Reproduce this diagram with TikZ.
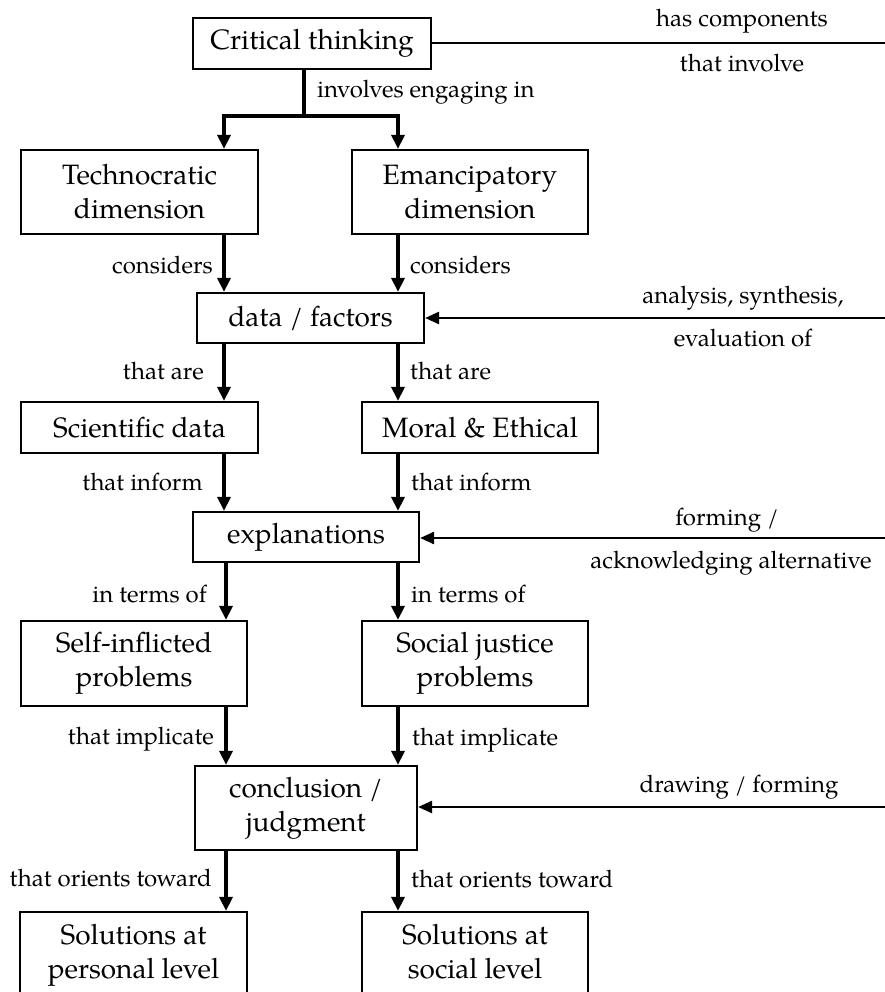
\documentclass[tikz,border=0pt]{standalone}
\usepackage{fontspec}
\setmainfont{TeX Gyre Pagella}
\usetikzlibrary{arrows.meta}
\begin{document}
\begin{tikzpicture}[x=1pt,y=-1pt,
  box/.style={draw, line width=2.2pt, align=center, inner sep=0pt,
    font=\fontsize{28}{34}\selectfont},
  lab/.style={inner sep=0pt, font=\fontsize{24}{28}\selectfont},
  conn/.style={line width=3.1pt},
  arr/.style={line width=3.1pt, -{Triangle[length=14pt,width=13pt]}},
  hline/.style={line width=2.6pt},
  harr/.style={line width=2.6pt, -{Triangle[length=14pt,width=12pt]}}]
\useasboundingbox (0,0) rectangle (885,992);
\clip (0,0) rectangle (885,992);

% columns
\coordinate (cL) at (224,0);
\coordinate (cL2) at (226,0);
\coordinate (cR) at (398,0);
\coordinate (jn) at (304,116);

% boxes
\node[box, minimum width=238pt, minimum height=51pt] (ct) at (312,43.5) {Critical thinking};
\node[box, minimum width=237pt, minimum height=84pt] (tech) at (139.5,192) {Technocratic\\dimension};
\node[box, minimum width=236pt, minimum height=84pt] (eman) at (470,192) {Emancipatory\\dimension};
\node[box, minimum width=227pt, minimum height=50pt] (data) at (310.5,318) {data / factors};
\node[box, minimum width=237pt, minimum height=51pt] (sci) at (139.5,427.5) {Scientific data};
\node[box, minimum width=236pt, minimum height=51pt] (moral) at (480,427.5) {Moral \& Ethical};
\node[box, minimum width=226pt, minimum height=50pt] (expl) at (306,537) {explanations};
\node[box, minimum width=226pt, minimum height=85pt] (self) at (134,663.5) {Self-inflicted\\problems};
\node[box, minimum width=226pt, minimum height=85pt] (social) at (475,663.5) {Social justice\\problems};
\node[box, minimum width=222pt, minimum height=84pt] (concl) at (306,808) {conclusion /\\judgment};
\node[box, minimum width=227pt, minimum height=86pt] (solp) at (133.5,955) {Solutions at\\personal level};
\node[box, minimum width=226pt, minimum height=86pt] (sols) at (475,955) {Solutions at\\social level\vphantom{p}};

% top fork
\draw[conn] (ct.south -| jn) -- (jn);
\draw[arr] (jn) -| (tech.north -| cL);
\draw[arr] (jn) -| (eman.north -| cR);
\node[lab, anchor=base west] (l0) at (317,98) {involves engaging in};

% vertical arrows
\draw[arr] (tech.south -| cL) -- (data.north -| cL);
\draw[arr] (eman.south -| cR) -- (data.north -| cR);
\draw[arr] (data.south -| cL) -- (sci.north -| cL);
\draw[arr] (data.south -| cR) -- (moral.north -| cR);
\draw[arr] (sci.south -| cL) -- (expl.north -| cL);
\draw[arr] (moral.south -| cR) -- (expl.north -| cR);
\draw[arr] (expl.south -| cL2) -- (self.north -| cL2);
\draw[arr] (expl.south -| cR) -- (social.north -| cR);
\draw[arr] (self.south -| cL2) -- (concl.north -| cL2);
\draw[arr] (social.south -| cR) -- (concl.north -| cR);
\draw[arr] (concl.south -| cL2) -- (solp.north -| cL2);
\draw[arr] (concl.south -| cR) -- (sols.north -| cR);

% left labels
\node[lab, anchor=base east] (a1) at (213,273) {considers};
\node[lab, anchor=base east] (a2) at (204,379) {that are};
\node[lab, anchor=base east] (a3) at (203,490) {that inform};
\node[lab, anchor=base east] (a4) at (207,602) {in terms of};
\node[lab, anchor=base east] (a5) at (214,744) {that implicate};
\node[lab, anchor=base east] (a6) at (212,886) {that orients toward};
% right labels
\node[lab, anchor=base west] (b1) at (410,273) {considers};
\node[lab, anchor=base west] (b2) at (410,379) {that are};
\node[lab, anchor=base west] (b3) at (411,490) {that inform};
\node[lab, anchor=base west] (b4) at (411,602) {in terms of};
\node[lab, anchor=base west] (b5) at (412,745) {that implicate};
\node[lab, anchor=base west] (b6) at (411,887) {that orients toward};

% right side connectors
\coordinate (r1) at (885,43);
\coordinate (r2) at (885,318);
\coordinate (r3) at (885,538);
\coordinate (r4) at (885,807);
\draw[hline] (ct.east |- r1) -- (r1);
\draw[harr] (r2) -- (r2 -| data.east);
\draw[harr] (r3) -- (r3 -| expl.east);
\draw[harr] (r4) -- (r4 -| concl.east);

\node[lab, anchor=base] (t1) at (742,27) {has components};
\node[lab, anchor=base] (t2) at (742,72) {that involve};
\node[lab, anchor=base] (t3) at (743,303) {analysis, synthesis,};
\node[lab, anchor=base] (t4) at (743,346) {evaluation of};
\node[lab, anchor=base] (t5) at (727,525) {forming /};
\node[lab, anchor=base] (t6) at (731,568) {acknowledging alternative};
\node[lab, anchor=base] (t7) at (739,792) {drawing / forming};
\end{tikzpicture}
\end{document}
